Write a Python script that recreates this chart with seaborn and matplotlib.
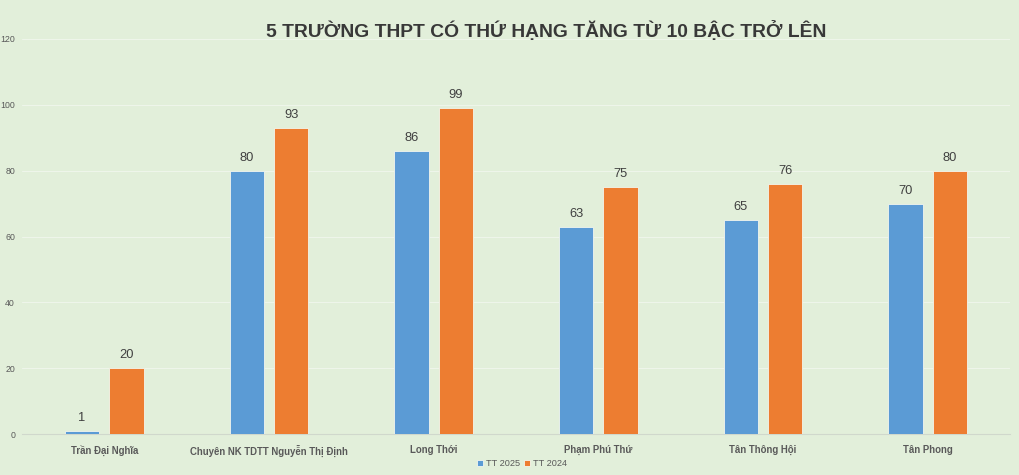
import matplotlib
matplotlib.use("Agg")
import matplotlib.pyplot as plt
import seaborn as sns
import pandas as pd

schools = ["Trần Đại Nghĩa", "Chuyên NK TDTT Nguyễn Thị Định", "Long Thới",
           "Phạm Phú Thứ", "Tân Thông Hội", "Tân Phong"]
tt2025 = [1, 80, 86, 63, 65, 70]
tt2024 = [20, 93, 99, 75, 76, 80]
series = ["TT 2025", "TT 2024"]
colors = ["#5B9BD5", "#ED7D31"]
title = "5 TRƯỜNG THPT CÓ THỨ HẠNG TĂNG TỪ 10 BẬC TRỞ LÊN"

df = pd.DataFrame({
    "school": schools * 2,
    "series": [series[0]] * len(schools) + [series[1]] * len(schools),
    "value": tt2025 + tt2024,
})

sns.set_theme(style="white")
plt.rcParams["font.family"] = ["Liberation Sans", "DejaVu Sans"]

bg = "#E2EFDA"
fig = plt.figure(figsize=(10.2, 4.75), dpi=100, facecolor=bg)
ax = fig.add_axes([22 / 1020, 1 - 434 / 475, (1010 - 22) / 1020, (434 - 39) / 475])
ax.set_facecolor(bg)

sns.barplot(data=df, x="school", y="value", hue="series", hue_order=series,
            palette=colors, saturation=1, width=0.54, gap=0.23, ax=ax,
            edgecolor="#F2F6EE", linewidth=0.6, zorder=3, legend=True)

for cont in ax.containers:
    ax.bar_label(cont, padding=5, fontsize=9.3, color="#404040")

ax.set_ylim(0, 120)
ax.set_yticks(range(0, 121, 20))
ax.set_xlim(-0.5, len(schools) - 0.5)
ax.yaxis.grid(True, color="#EEF5EA", linewidth=0.8, zorder=0)
ax.tick_params(axis="y", labelsize=6.3, labelcolor="#595959", length=0, pad=5)
ax.tick_params(axis="x", labelsize=6.9, labelcolor="#595959", length=0, pad=8)
for lbl in ax.get_xticklabels():
    lbl.set_fontweight("bold")
ax.set_xlabel("")
ax.set_ylabel("")
for s in ["top", "right", "left"]:
    ax.spines[s].set_visible(False)
ax.spines["bottom"].set_color("#D0D8CC")
ax.spines["bottom"].set_linewidth(0.8)

handles, labels = ax.get_legend_handles_labels()
ax.legend(handles, labels, loc="center", bbox_to_anchor=(522 / 1020, 1 - 464 / 475),
          bbox_transform=fig.transFigure, ncol=2, frameon=False, fontsize=6.6,
          handlelength=0.6, handleheight=0.6, handletextpad=0.3, columnspacing=0.5,
          labelcolor="#595959")

fig.text(546 / 1020, 1 - 31 / 475, title, ha="center", va="center",
         fontsize=13.9, fontweight="bold", color="#383838")

fig.savefig("out.png", dpi=100, facecolor=bg)
